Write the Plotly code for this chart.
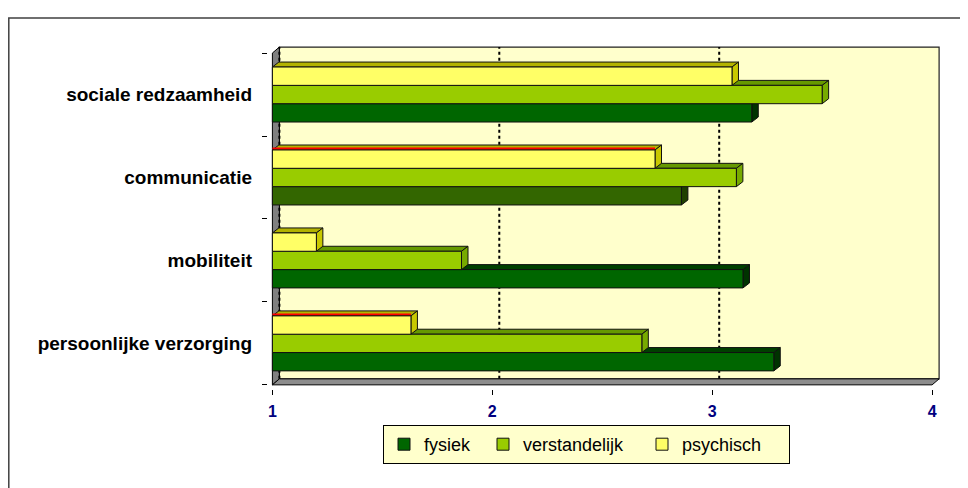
import plotly.graph_objects as go

# ---------------- data ----------------
CATEGORIES = ["persoonlijke verzorging", "mobiliteit", "communicatie", "sociale redzaamheid"]
SERIES = ["fysiek", "verstandelijk", "psychisch"]
FYSIEK = [3.28, 3.14, 2.86, 3.18]
VERSTANDELIJK = [2.68, 1.86, 3.11, 3.50]
PSYCHISCH = [1.63, 1.20, 2.74, 3.09]
X_TICKS = [1, 2, 3, 4]

# ---------------- style ----------------
AXIS_MIN, AXIS_MAX = 1, 4
FRONT = {
    "fysiek": ["#006600", "#006600", "#336600", "#006600"],
    "verstandelijk": ["#99CC00"] * 4,
    "psychisch": ["#FFFF66"] * 4,
}
TOP = {
    "fysiek": ["#004000", "#004000", "#264D00", "#004000"],
    "verstandelijk": ["#669900"] * 4,
    "psychisch": ["#B3B300"] * 4,
}
SIDE = {
    "fysiek": ["#003300", "#003300", "#1F4000", "#003300"],
    "verstandelijk": ["#77AA00"] * 4,
    "psychisch": ["#C8C800"] * 4,
}
PSYCH_EDGE = ["red", None, "red", None]
LEGEND_W = {"fysiek": 54, "verstandelijk": 114, "psychisch": 102}

BAR_W = 0.221
OFFSETS = [-0.3315, -0.1105, 0.1105]
BDX, BDY = 0.0295, 0.06      # bar depth (data units)
WDX, WDY = 0.0318, 0.0723    # wall depth (data units)
FONT = "Liberation Sans, Arial, sans-serif"

# figure is placed by the page with an 8px body margin
FW, FH = 960, 480
PL, PW, PB, PH = 260, 674, 381, 343

values = {"fysiek": FYSIEK, "verstandelijk": VERSTANDELIJK, "psychisch": PSYCHISCH}
ypos = list(range(len(CATEGORIES)))

fig = go.Figure()


def poly(pts):
    return "M " + " L ".join(f"{x},{y}" for x, y in pts) + " Z"


shapes = []
# back wall
shapes.append(dict(type="path", layer="below", xref="x", yref="y",
                   path=poly([(AXIS_MIN + WDX, -0.5 + WDY), (AXIS_MAX + WDX, -0.5 + WDY),
                              (AXIS_MAX + WDX, len(CATEGORIES) - 0.5 + WDY),
                              (AXIS_MIN + WDX, len(CATEGORIES) - 0.5 + WDY)]),
                   fillcolor="#FFFFCC", line=dict(color="#202020", width=1.2)))
# left wall
shapes.append(dict(type="path", layer="below", xref="x", yref="y",
                   path=poly([(AXIS_MIN, -0.5), (AXIS_MIN, len(CATEGORIES) - 0.5),
                              (AXIS_MIN + WDX, len(CATEGORIES) - 0.5 + WDY),
                              (AXIS_MIN + WDX, -0.5 + WDY)]),
                   fillcolor="#808080", line=dict(color="black", width=1)))
# floor
shapes.append(dict(type="path", layer="below", xref="x", yref="y",
                   path=poly([(AXIS_MIN, -0.5), (AXIS_MAX, -0.5),
                              (AXIS_MAX + WDX, -0.5 + WDY), (AXIS_MIN + WDX, -0.5 + WDY)]),
                   fillcolor="#8C8C8C", line=dict(color="black", width=1)))
# gridlines on the back wall
for t in X_TICKS[:-1]:
    shapes.append(dict(type="line", layer="below", xref="x", yref="y",
                       x0=t + WDX, x1=t + WDX, y0=-0.5 + WDY, y1=len(CATEGORIES) - 0.5 + WDY,
                       line=dict(color="black", width=2, dash="dot")))

# 3D faces of the bars
for c in ypos:
    for si, s in enumerate(SERIES):
        v = values[s][c]
        y0 = c + OFFSETS[si]
        y1 = y0 + BAR_W
        shapes.append(dict(type="path", layer="below", xref="x", yref="y",
                           path=poly([(AXIS_MIN, y1), (v, y1), (v + BDX, y1 + BDY), (AXIS_MIN + BDX, y1 + BDY)]),
                           fillcolor=TOP[s][c], line=dict(color="#111111", width=1)))
        shapes.append(dict(type="path", layer="below", xref="x", yref="y",
                           path=poly([(v, y0), (v, y1), (v + BDX, y1 + BDY), (v + BDX, y0 + BDY)]),
                           fillcolor=SIDE[s][c], line=dict(color="#111111", width=1)))
        if s == "psychisch" and PSYCH_EDGE[c]:
            shapes.append(dict(type="line", layer="below", xref="x", yref="y",
                               x0=AXIS_MIN, x1=v, y0=y1 + 0.018, y1=y1 + 0.018,
                               line=dict(color=PSYCH_EDGE[c], width=2)))

# outer chart border (paper coords)
shapes.append(dict(type="rect", xref="paper", yref="paper", layer="above",
                   x0=(0.8 - PL) / PW, x1=(957 - PL) / PW,
                   y0=(PB - 490) / PH, y1=(PB - 10) / PH,
                   line=dict(color="#404040", width=1.5), fillcolor="rgba(0,0,0,0)"))

for si, s in enumerate(SERIES):
    fig.add_trace(go.Bar(
        y=ypos,
        x=[v - AXIS_MIN for v in values[s]],
        base=AXIS_MIN,
        orientation="h",
        width=BAR_W,
        offset=OFFSETS[si],
        name=s,
        legendwidth=LEGEND_W[s],
        marker=dict(color=FRONT[s], line=dict(color="#111111", width=1)),
        hovertemplate="%{y}: %{customdata}<extra>" + s + "</extra>",
        customdata=values[s],
    ))

fig.update_layout(
    width=FW, height=FH,
    margin=dict(l=PL, r=FW - PL - PW, t=PB - PH, b=FH - PB, autoexpand=False),
    paper_bgcolor="white",
    plot_bgcolor="white",
    barmode="overlay",
    shapes=shapes,
    showlegend=True,
    legend=dict(
        orientation="h",
        x=(375 - PL) / PW, y=(PB - 417) / PH,
        xanchor="left", yanchor="top",
        bgcolor="#FFFFCC", bordercolor="black", borderwidth=1,
        font=dict(family=FONT, size=18, color="black"),
        traceorder="normal",
    ),
    xaxis=dict(
        range=[0.98, 4.045],
        tickvals=X_TICKS,
        ticktext=[str(t) for t in X_TICKS],
        ticks="outside", ticklen=5, tickcolor="black", tickwidth=1,
        showgrid=False, zeroline=False, showline=False,
        tickfont=dict(family=FONT, size=16, color="#000080", weight="bold"),
        ticklabelstandoff=3,
        fixedrange=True,
    ),
    yaxis=dict(
        range=[-0.55, 3.585],
        tickvals=ypos,
        ticktext=CATEGORIES,
        ticks="",
        minor=dict(tickvals=[c - 0.5 for c in ypos] + [len(ypos) - 0.5], ticks="outside",
                   ticklen=5, tickcolor="black", showgrid=False),
        showgrid=False, zeroline=False, showline=False,
        tickfont=dict(family=FONT, size=19, color="black", weight="bold"),
        ticklabelstandoff=15,
        fixedrange=True,
    ),
)

fig.write_html("out.html")
